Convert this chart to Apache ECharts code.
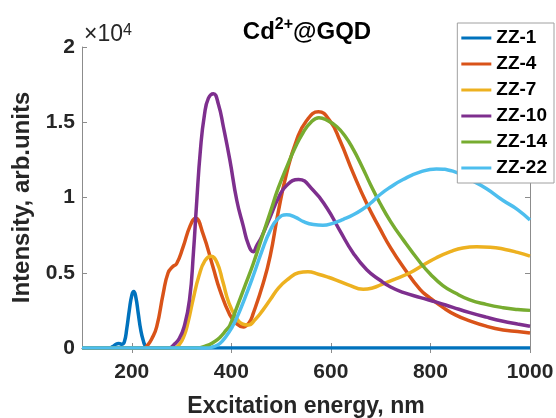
<!DOCTYPE html>
<html lang="en">
<head>
  <meta charset="utf-8">
  <title>Cd2+@GQD excitation spectra</title>
  <script src="https://cdn.jsdelivr.net/npm/echarts@6/dist/echarts.min.js"></script>
  <style>
    html, body { margin: 0; padding: 0; background: #fff; }
    #main { width: 556px; height: 418px; }
  </style>
</head>
<body>
  <div id="main"></div>
  <script>
    // intensity values are in units of 10^4 (axis shows x10^4)
    var seriesNames = ['ZZ-1', 'ZZ-4', 'ZZ-7', 'ZZ-10', 'ZZ-14', 'ZZ-22'];
    var xTicks = [200, 400, 600, 800, 1000];
    var yTicks = [0, 0.5, 1, 1.5, 2];

    var zz1X = [100, 155, 162, 168, 174, 180, 185, 190, 195, 200, 204, 208, 213, 218, 223, 228, 235, 1000];
    var zz1Y = [0, 0, 0.01, 0.025, 0.03, 0.025, 0.04, 0.13, 0.25, 0.35, 0.375, 0.34, 0.23, 0.12, 0.05, 0.01, 0, 0];

    var zz4X = [100, 225, 232, 240, 250, 263, 273, 282, 290, 303, 317, 328, 343, 363, 377, 397, 411, 424, 436, 444, 464, 478, 494, 511, 531, 551, 575, 598, 618, 645, 672, 699, 720, 745, 779, 800, 825, 850, 879, 912, 946, 975, 1000];
    var zz4Y = [0, 0, 0.02, 0.06, 0.14, 0.36, 0.50, 0.54, 0.56, 0.67, 0.81, 0.862, 0.76, 0.54, 0.385, 0.22, 0.16, 0.14, 0.17, 0.23, 0.43, 0.61, 0.90, 1.16, 1.38, 1.51, 1.57, 1.51, 1.38, 1.16, 0.96, 0.79, 0.665, 0.54, 0.39, 0.33, 0.27, 0.22, 0.18, 0.145, 0.12, 0.11, 0.10];

    var zz7X = [100, 285, 295, 305, 313, 323, 335, 347, 359, 371, 383, 395, 410, 422, 434, 448, 463, 478, 495, 515, 535, 554, 575, 595, 612, 635, 665, 685, 700, 730, 759, 785, 812, 840, 865, 893, 920, 950, 975, 1000];
    var zz7Y = [0, 0, 0.02, 0.08, 0.17, 0.32, 0.48, 0.58, 0.61, 0.57, 0.44, 0.30, 0.20, 0.16, 0.153, 0.19, 0.25, 0.32, 0.40, 0.46, 0.50, 0.507, 0.49, 0.47, 0.45, 0.42, 0.39, 0.40, 0.42, 0.46, 0.50, 0.55, 0.60, 0.64, 0.665, 0.673, 0.67, 0.655, 0.635, 0.61];

    var zz10X = [100, 275, 284, 295, 305, 316, 324, 330, 338, 346, 354, 364, 374, 384, 397, 411, 424, 434, 444, 451, 461, 478, 495, 511, 535, 564, 592, 618, 645, 672, 699, 720, 745, 780, 812, 845, 879, 912, 946, 975, 1000];
    var zz10Y = [0, 0, 0.02, 0.06, 0.14, 0.32, 0.64, 0.95, 1.32, 1.55, 1.66, 1.69, 1.62, 1.47, 1.25, 0.98, 0.81, 0.69, 0.64, 0.68, 0.74, 0.87, 1.00, 1.08, 1.12, 1.05, 0.93, 0.78, 0.63, 0.52, 0.45, 0.405, 0.37, 0.335, 0.305, 0.27, 0.235, 0.205, 0.178, 0.16, 0.145];

    var zz14X = [100, 330, 350, 365, 377, 390, 397, 411, 427, 444, 461, 478, 494, 511, 528, 544, 560, 576, 594, 612, 628, 645, 662, 679, 699, 720, 745, 779, 800, 825, 850, 879, 912, 946, 975, 1000];
    var zz14Y = [0, 0, 0.015, 0.04, 0.07, 0.12, 0.15, 0.27, 0.41, 0.56, 0.73, 0.90, 1.06, 1.20, 1.33, 1.43, 1.50, 1.53, 1.51, 1.47, 1.41, 1.32, 1.21, 1.09, 0.96, 0.84, 0.72, 0.57, 0.49, 0.415, 0.365, 0.32, 0.29, 0.268, 0.256, 0.25];

    var zz22X = [100, 350, 365, 377, 390, 400, 411, 427, 444, 461, 478, 494, 511, 528, 545, 565, 584, 605, 625, 645, 665, 679, 699, 720, 745, 780, 812, 845, 879, 912, 946, 975, 1000];
    var zz22Y = [0, 0, 0.01, 0.03, 0.08, 0.13, 0.20, 0.33, 0.48, 0.64, 0.78, 0.86, 0.885, 0.87, 0.84, 0.82, 0.815, 0.83, 0.855, 0.885, 0.925, 0.96, 1.02, 1.07, 1.12, 1.17, 1.19, 1.175, 1.12, 1.06, 0.98, 0.92, 0.85];

    var xs = [zz1X, zz4X, zz7X, zz10X, zz14X, zz22X];
    var ys = [zz1Y, zz4Y, zz7Y, zz10Y, zz14Y, zz22Y];
    var colors = ['#0072BD', '#D95319', '#EDB120', '#7E2F8E', '#77AC30', '#4DBEEE'];

    var font = 'Liberation Sans, Arial, sans-serif';
    var axisColor = '#8c8c8c';

    var myChart = echarts.init(document.getElementById('main'));

    var series = seriesNames.map(function(name, k) {
      return {
        name: name,
        type: 'line',
        smooth: 0.5,
        symbol: 'none',
        lineStyle: { width: 3.5, color: colors[k] },
        itemStyle: { color: colors[k] },
        data: xs[k].map(function(x, i) { return [x, ys[k][i]]; })
      };
    });

    var option = {
      animation: false,
      color: colors,
      textStyle: { fontFamily: font },
      title: {
        text: '{a|Cd}{s|2+}{a|@GQD}',
        left: 302,
        textAlign: 'center',
        top: 12,
        textStyle: {
          rich: {
            a: { fontFamily: font, fontSize: 24, fontWeight: 'bold', color: '#000', lineHeight: 30 },
            s: { fontFamily: font, fontSize: 16, fontWeight: 'bold', color: '#000', lineHeight: 16, verticalAlign: 'top' }
          }
        }
      },
      graphic: [{
        type: 'text',
        left: 84,
        top: 23,
        style: {
          text: '×10{s|4}',
          font: '23px ' + font,
          fill: '#262626',
          rich: {
            s: { fontSize: 16, fontFamily: font, verticalAlign: 'top', lineHeight: 16, fill: '#262626' }
          }
        }
      }],
      legend: {
        orient: 'vertical',
        right: 2,
        top: 23,
        padding: [5, 7, 5, 4],
        itemGap: 6,
        itemWidth: 30,
        itemHeight: 3,
        icon: 'rect',
        backgroundColor: '#fff',
        borderColor: '#a0a0a0',
        borderWidth: 1,
        textStyle: { fontFamily: font, fontSize: 19, fontWeight: 'bold', color: '#000', lineHeight: 20 },
        data: seriesNames
      },
      grid: { left: 82, right: 26, top: 47, bottom: 70, outerBoundsMode: 'none' },
      xAxis: [{
        type: 'value',
        min: 100,
        max: 1000,
        name: 'Excitation energy, nm',
        nameLocation: 'middle',
        nameGap: 47,
        nameTextStyle: { fontFamily: font, fontSize: 23, fontWeight: 'bold', color: '#262626' },
        axisLine: { show: true, lineStyle: { color: axisColor, width: 1 } },
        axisTick: { show: true, inside: true, length: 5, customValues: xTicks, lineStyle: { color: axisColor } },
        axisLabel: {
          customValues: xTicks, margin: 14,
          fontFamily: font, fontSize: 21, fontWeight: 'bold', color: '#262626',
          formatter: function(v) { return String(v); }
        },
        splitLine: { show: false }
      }, {
        type: 'value',
        position: 'top',
        min: 100,
        max: 1000,
        axisLine: { show: true, lineStyle: { color: axisColor, width: 1 } },
        axisTick: { show: true, inside: true, length: 5, customValues: xTicks, lineStyle: { color: axisColor } },
        axisLabel: { show: false },
        splitLine: { show: false }
      }],
      yAxis: [{
        type: 'value',
        min: 0,
        max: 2,
        interval: 0.5,
        name: 'Intensity, arb.units',
        nameLocation: 'middle',
        nameGap: 48,
        nameTextStyle: { fontFamily: font, fontSize: 24, fontWeight: 'bold', color: '#262626' },
        axisLine: { show: true, lineStyle: { color: axisColor, width: 1 } },
        axisTick: { show: true, inside: true, length: 5, customValues: yTicks, lineStyle: { color: axisColor } },
        axisLabel: {
          customValues: yTicks, margin: 7,
          fontFamily: font, fontSize: 21, fontWeight: 'bold', color: '#262626',
          formatter: function(v) { return String(v); }
        },
        splitLine: { show: false }
      }, {
        type: 'value',
        position: 'right',
        min: 0,
        max: 2,
        interval: 0.5,
        axisLine: { show: true, lineStyle: { color: axisColor, width: 1 } },
        axisTick: { show: true, inside: true, length: 5, customValues: yTicks, lineStyle: { color: axisColor } },
        axisLabel: { show: false },
        splitLine: { show: false }
      }],
      series: series
    };

    myChart.setOption(option);
  </script>
</body>
</html>
